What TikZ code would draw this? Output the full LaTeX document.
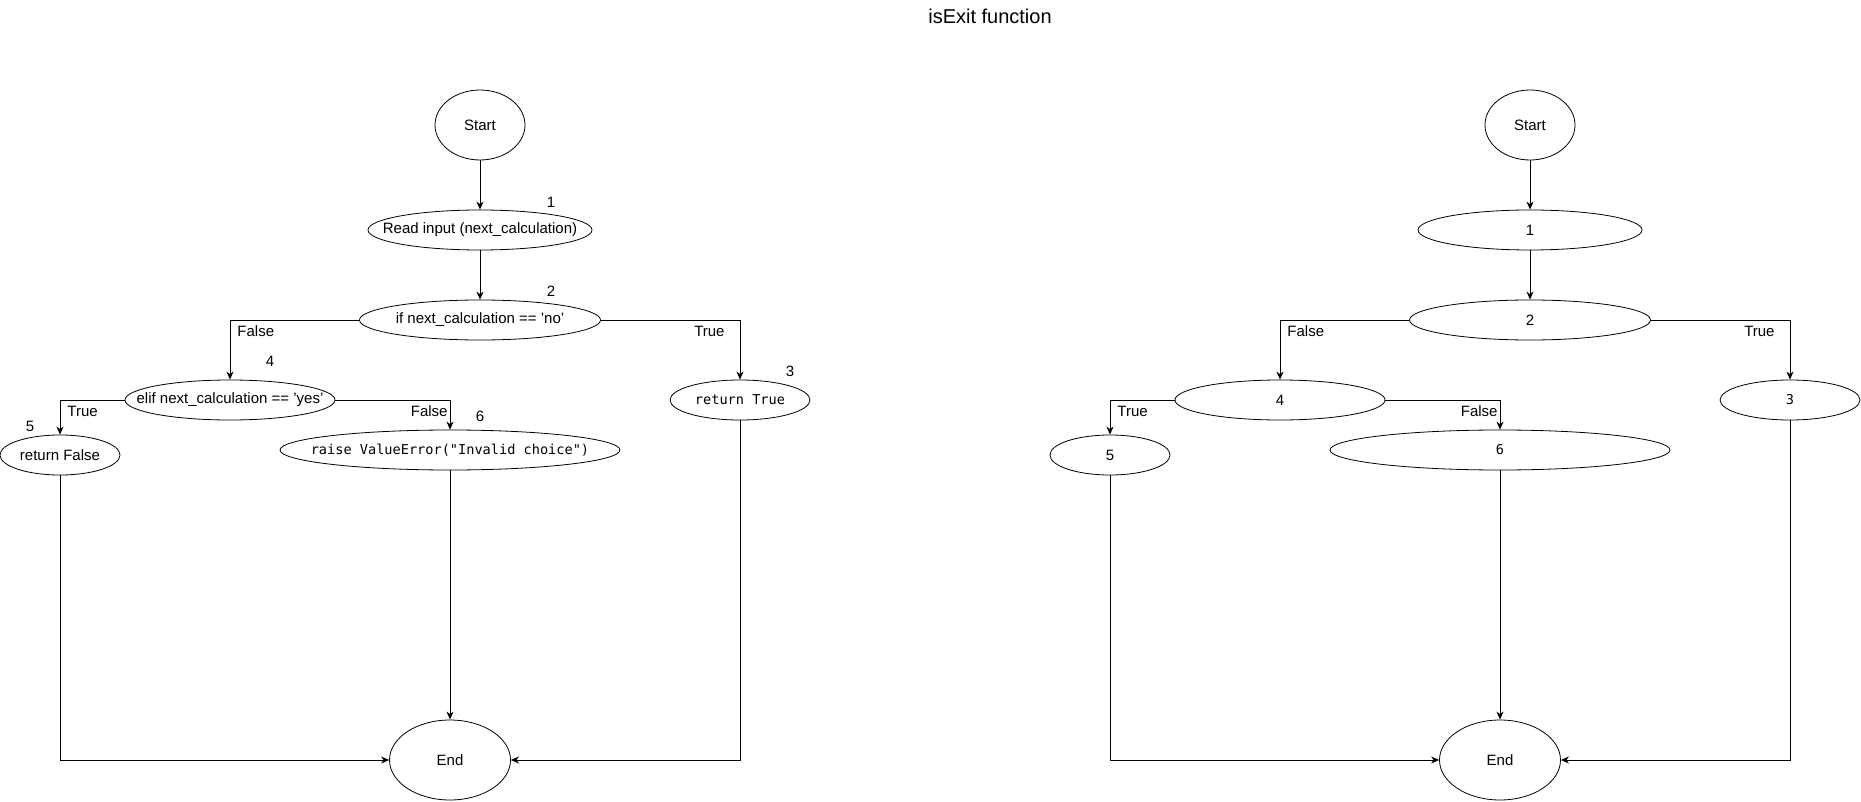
\documentclass[tikz,border=0pt]{standalone}
\usepackage{fontspec}
\setmainfont{Liberation Sans}
\setmonofont{DejaVu Sans Mono}
\usetikzlibrary{shapes.geometric, arrows.meta, positioning}
\newcommand{\centrado}[1]{\makebox[0pt]{#1}}

\begin{document}
\begin{tikzpicture}[
		    x=1pt, y=-1pt,
		    every node/.style={font=\fontsize{15}{18}\selectfont},
		    >={Stealth[length=8pt, width=7pt, inset=2.5pt]}
		]
		\tikzset{
		    oval/.style={draw, ellipse, inner sep=0pt, minimum height=40pt, line width=0.8pt},
		    code/.style={font=\fontsize{13.6}{16}\selectfont\ttfamily},
		    fluxo/.style={->, line width=0.9pt},
		    rotdir/.style={pos=0.5, anchor=west, inner sep=0pt, xshift=7pt, yshift=-11pt},
		    rotesq/.style={pos=0.5, anchor=east, inner sep=0pt, yshift=-11pt},
		    numero/.style={inner sep=0pt}
		}
		\useasboundingbox (0,0) rectangle (1861,802);
		\node (titulo) at (990,16) {\fontsize{20}{24}\selectfont isExit function};

		% fluxograma com o codigo
		\node[oval, minimum width=90pt, minimum height=70pt] (startL) at (480,125) {\centrado{Start}};
		\node[oval, minimum width=224pt] (readL) at (480,230) {\centrado{Read input (next\_calculation)}};
		\node[oval, minimum width=241pt] (ifL) at (480,320) {\centrado{if next\_calculation == 'no'}};
		\node[oval, minimum width=210pt] (elifL) at (230,400) {\centrado{elif next\_calculation == 'yes'}};
		\node[oval, minimum width=120pt] (falseL) at (60,455) {\centrado{return False}};
		\node[oval, code, minimum width=340pt] (raiseL) at (450,450) {\centrado{raise ValueError("Invalid choice")}};
		\node[oval, code, minimum width=140pt] (trueL) at (740,400) {\centrado{return True}};
		\node[oval, minimum width=121pt, minimum height=80pt] (endL) at (450,760) {\centrado{End}};

		\node[numero] at ([xshift=71pt, yshift=28pt]readL.center) {1};
		\node[numero] at ([xshift=71pt, yshift=29pt]ifL.center) {2};
		\node[numero] at ([xshift=40pt, yshift=39pt]elifL.center) {4};
		\node[numero] at ([xshift=-30pt, yshift=29pt]falseL.center) {5};
		\node[numero] at ([xshift=30pt, yshift=34pt]raiseL.center) {6};
		\node[numero] at ([xshift=50pt, yshift=29pt]trueL.center) {3};

		\draw[fluxo] (startL) -- (readL);
		\draw[fluxo] (readL) -- (ifL);
		\draw[fluxo] (ifL.west) -| node[rotdir] {False} (elifL.north);
		\draw[fluxo] (ifL.east) -| node[rotesq, xshift=-15pt] {True} (trueL.north);
		\draw[fluxo] (elifL.west) -| node[rotdir] {True} (falseL.north);
		\draw[fluxo] (elifL.east) -| node[rotesq, xshift=-2pt] {False} (raiseL.north);
		\draw[fluxo] (falseL.south) |- (endL.west);
		\draw[fluxo] (raiseL) -- (endL);
		\draw[fluxo] (trueL.south) |- (endL.east);

		% grafo de fluxo
		\begin{scope}[xshift=1050pt]
		\node[oval, minimum width=90pt, minimum height=70pt] (startR) at (480,125) {\centrado{Start}};
		\node[oval, minimum width=224pt] (readR) at (480,230) {1};
		\node[oval, minimum width=241pt] (ifR) at (480,320) {2};
		\node[oval, minimum width=210pt] (elifR) at (230,400) {4};
		\node[oval, minimum width=120pt] (falseR) at (60,455) {5};
		\node[oval, code, minimum width=340pt] (raiseR) at (450,450) {6};
		\node[oval, code, minimum width=140pt] (trueR) at (740,400) {3};
		\node[oval, minimum width=121pt, minimum height=80pt] (endR) at (450,760) {\centrado{End}};

		\draw[fluxo] (startR) -- (readR);
		\draw[fluxo] (readR) -- (ifR);
		\draw[fluxo] (ifR.west) -| node[rotdir] {False} (elifR.north);
		\draw[fluxo] (ifR.east) -| node[rotesq, xshift=-15pt] {True} (trueR.north);
		\draw[fluxo] (elifR.west) -| node[rotdir] {True} (falseR.north);
		\draw[fluxo] (elifR.east) -| node[rotesq, xshift=-2pt] {False} (raiseR.north);
		\draw[fluxo] (falseR.south) |- (endR.west);
		\draw[fluxo] (raiseR) -- (endR);
		\draw[fluxo] (trueR.south) |- (endR.east);
		\end{scope}
		\end{tikzpicture}
\end{document}
